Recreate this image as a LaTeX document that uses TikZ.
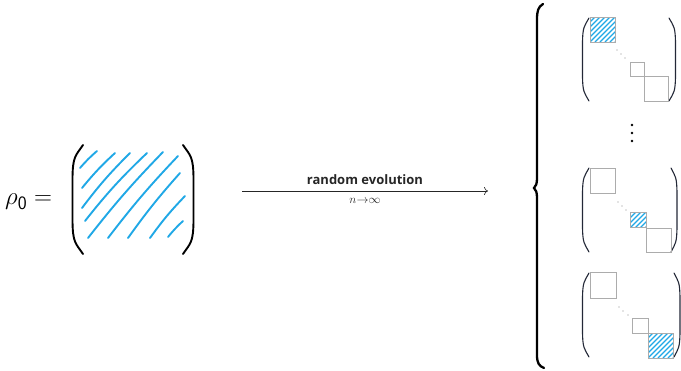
\documentclass[tikz,border=0pt]{standalone}
\usepackage{fontspec}
\newfontfamily\labelfont{Open Sans}
\usetikzlibrary{calc,arrows.meta}

\definecolor{hatchblue}{RGB}{32,168,230}
\definecolor{boxgray}{RGB}{172,172,172}
\definecolor{parink}{RGB}{35,40,55}

% tall parenthesis: #2 x at the ends, #3 x at the middle, #4 top y, #5 bottom y
\newcommand{\tallparen}[5][]{%
  \pgfmathsetmacro\tpA{#4+0.10*(#5-#4)}%
  \pgfmathsetmacro\tpB{#4+0.32*(#5-#4)}%
  \pgfmathsetmacro\tpC{#5-0.32*(#5-#4)}%
  \pgfmathsetmacro\tpD{#5-0.10*(#5-#4)}%
  \pgfmathsetmacro\tpX{#2+0.7*(#3-#2)}%
  \draw[#1] (#2,#4) .. controls (\tpX,\tpA) and (#3,\tpA) .. (#3,\tpB)
    -- (#3,\tpC) .. controls (#3,\tpD) and (\tpX,\tpD) .. (#2,#5);
}

% hatched block: lower-left x, top y, size
\newcommand{\hatchblock}[3]{%
  \begin{scope}
    \clip (#1,#2) rectangle ++(#3,#3);
    \foreach \s in {-30,-25,...,30}
      \draw[hatchline] (#1+\s,#2+#3) -- ++(#3,-#3);
  \end{scope}
  \draw[blockline] (#1,#2) rectangle ++(#3,#3);
}

\tikzset{
  hatchline/.style={hatchblue, line width=1.1pt, line cap=round},
  bighatch/.style={hatchblue, line width=1.9pt, line cap=round},
  blockline/.style={boxgray, line width=0.9pt},
  bigparen/.style={black, line width=1.9pt, line cap=round},
  smallparen/.style={parink, line width=1.1pt, line cap=round},
  dotgray/.style={fill=gray!90, draw=none},
}

\begin{document}
\begin{tikzpicture}[x=1pt,y=-1pt]
\useasboundingbox (0,0) rectangle (681,370);

% left-hand side
\node[anchor=west, inner sep=0pt, font=\fontsize{27}{30}\selectfont] (lhs) at (5,202) {$\rho_{\mathsf{0}} =$};

\tallparen[bigparen]{83}{72.5}{145}{254}
\tallparen[bigparen]{183}{193.5}{145}{254}

% freehand hatching of the full matrix
\draw[bighatch] (80,168) to[bend left=4] (97,151);
\draw[bighatch] (82,188) to[bend left=4] (115,153);
\draw[bighatch] (82,208) to[bend left=4] (130,153);
\draw[bighatch] (85,221) to[bend left=4] (147,153);
\draw[bighatch] (88,238) to[bend left=3] (163,152);
\draw[bighatch] (108,238) to[bend left=3] (178,156);
\draw[bighatch] (128,238) to[bend left=3] (180,173);
\draw[bighatch] (150,238) to[bend left=4] (185,196);
\draw[bighatch] (168,237) to[bend left=4] (183,221);

% evolution arrow
\coordinate (arrL) at (242,191);
\coordinate (arrR) at (488,191);
\draw[black!85, line width=0.6pt, -{To[length=4pt,width=8pt]}] (arrL) -- (arrR)
  node[midway, above=3pt, font=\labelfont\bfseries\fontsize{13}{15}\selectfont] (lblTop) {random evolution}
  node[midway, below=4pt, font=\fontsize{13}{14}\selectfont] (lblBot) {$n{\to}\infty$};

% big brace
\draw[black, line width=2.3pt, line cap=round]
  (543,4) .. controls (538,7) and (537,11) .. (537,20) -- (537,178)
  .. controls (537,184) and (536,186) .. (534,188)
  .. controls (536,190) and (537,192) .. (537,198) -- (537,355)
  .. controls (537,363) and (539,366) .. (544,368);

% top outcome: first block
\tallparen[smallparen]{589}{582.5}{18}{101}
\tallparen[smallparen]{669}{675.5}{18}{101}
\hatchblock{590}{17}{25}
\draw[blockline] (630,62) rectangle (644,76);
\draw[blockline] (644,76) rectangle (668,101);
\foreach \p in {(617,50),(621,54),(625,58)} \fill[dotgray] \p circle (0.6);

% vertical ellipsis
\foreach \p in {(632,125),(632,133),(632,141)} \fill[black] \p circle (1.4);

% middle outcome: intermediate block
\tallparen[smallparen]{589}{582.5}{168}{252}
\tallparen[smallparen]{671}{677}{168}{252}
\draw[blockline] (590,168) rectangle (615,193);
\hatchblock{630.5}{212}{15.5}
\draw[blockline] (646,228) rectangle (671,252);
\foreach \p in {(618,202),(622,206),(626,210)} \fill[dotgray] \p circle (0.6);

% bottom outcome: last block
\tallparen[smallparen]{589}{582.5}{273}{357}
\tallparen[smallparen]{674}{680}{273}{357}
\draw[blockline] (590,272) rectangle (616,298);
\draw[blockline] (632,318) rectangle (648,333);
\hatchblock{648}{333}{25}
\foreach \p in {(619,307),(623,311),(628,315)} \fill[dotgray] \p circle (0.6);

\end{tikzpicture}
\end{document}
